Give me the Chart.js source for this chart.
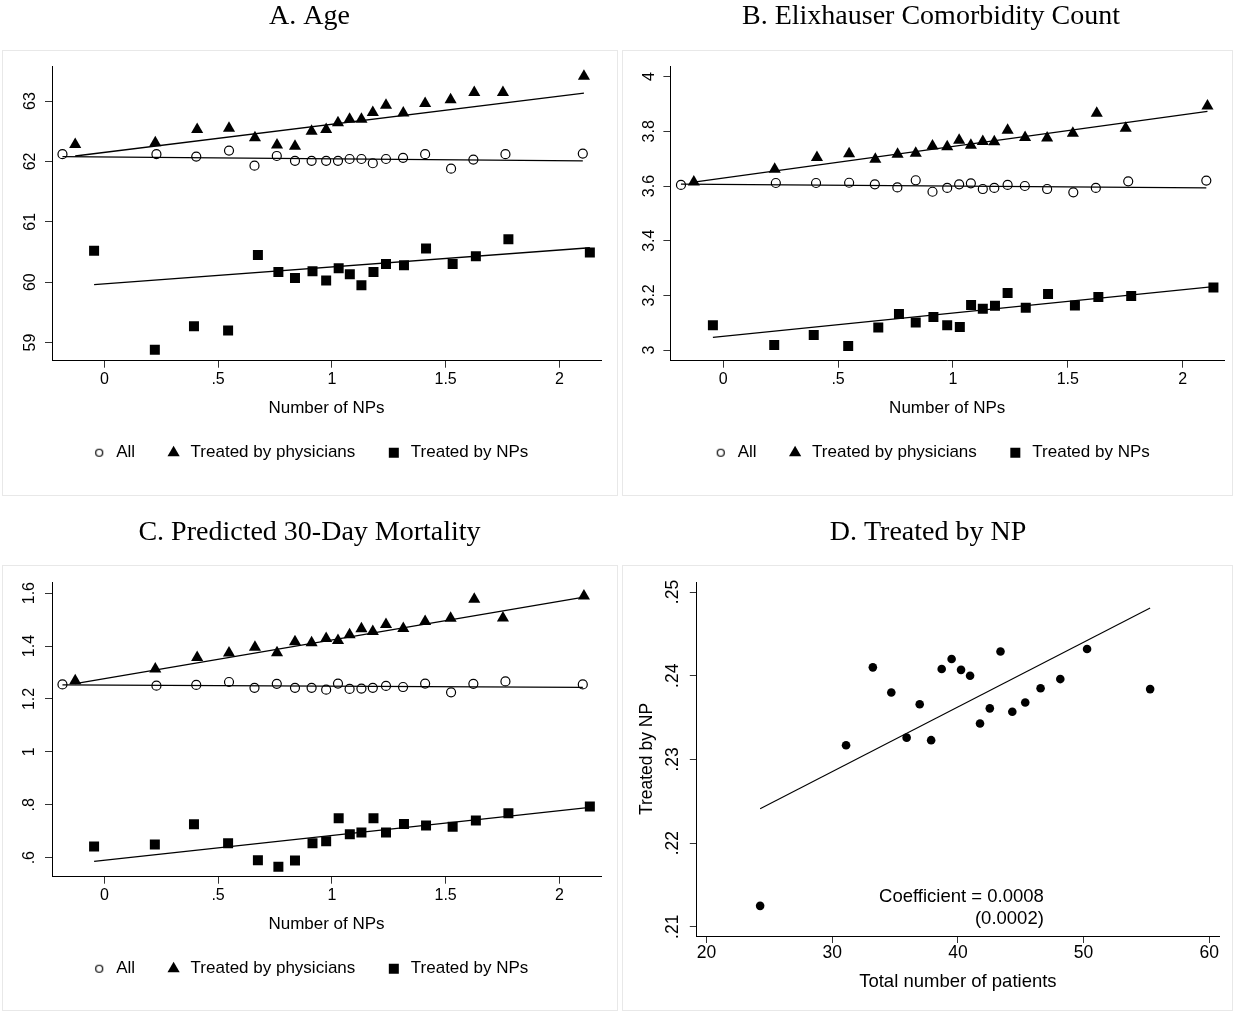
<!DOCTYPE html>
<html>
<head>
<meta charset="utf-8">
<script src="https://cdn.jsdelivr.net/npm/chart.js@4.4.1/dist/chart.umd.min.js"></script>
<style>
  body { margin: 0; background: #fff; }
  #wrap { position: relative; width: 1235px; height: 1013px; overflow: hidden; }
  .frame { position: absolute; border: 1px solid #e8e8e8; box-sizing: border-box; }
  canvas { position: absolute; }
</style>
</head>
<body>
<div id="wrap">
  <div class="frame" style="left:2px;top:50px;width:616px;height:446px"></div>
  <div class="frame" style="left:622px;top:50px;width:611px;height:446px"></div>
  <div class="frame" style="left:2px;top:565px;width:616px;height:446px"></div>
  <div class="frame" style="left:622px;top:565px;width:611px;height:446px"></div>
  <canvas id="chartA" width="618" height="497" style="left:0;top:0"></canvas>
  <canvas id="chartB" width="615" height="497" style="left:620px;top:0"></canvas>
  <canvas id="chartC" width="618" height="497" style="left:0;top:516px"></canvas>
  <canvas id="chartD" width="615" height="497" style="left:620px;top:516px"></canvas>
</div>
<script>
// number of NPs (bin means) for each group
const xAll  = [-0.184, 0.229, 0.404, 0.548, 0.660, 0.758, 0.838, 0.911, 0.975, 1.027, 1.078, 1.130, 1.180, 1.238, 1.313, 1.410, 1.524, 1.622, 1.763, 2.103]
const xPhys = [-0.128, 0.224, 0.408, 0.548, 0.662, 0.759, 0.838, 0.911, 0.975, 1.027, 1.078, 1.130, 1.180, 1.238, 1.314, 1.410, 1.522, 1.626, 1.752, 2.108]
const xNP   = [-0.045, 0.222, 0.394, 0.544, 0.675, 0.765, 0.838, 0.915, 0.975, 1.030, 1.079, 1.130, 1.183, 1.238, 1.317, 1.414, 1.531, 1.633, 1.776, 2.134]

// A. Age
const ageAll  = [62.12, 62.12, 62.08, 62.18, 61.93, 62.09, 62.01, 62.01, 62.01, 62.01, 62.04, 62.04, 61.97, 62.04, 62.06, 62.12, 61.88, 62.03, 62.12, 62.13]
const agePhys = [62.28, 62.31, 62.53, 62.55, 62.39, 62.27, 62.25, 62.50, 62.53, 62.64, 62.70, 62.70, 62.81, 62.93, 62.80, 62.96, 63.02, 63.14, 63.14, 63.41]
const ageNP   = [60.52, 58.88, 59.27, 59.20, 60.45, 60.17, 60.07, 60.18, 60.03, 60.23, 60.13, 59.95, 60.17, 60.30, 60.28, 60.56, 60.30, 60.43, 60.71, 60.49]
const ageFitAll = [62.08, 62.01]
const ageFitPhys = [62.09, 63.13]
const ageFitNP = [59.96, 60.57]
const ageTicks = [59, 60, 61, 62, 63]
const ageTickLabels = ['59', '60', '61', '62', '63']

// B. Elixhauser comorbidity count
const elixAll  = [3.604, 3.611, 3.611, 3.612, 3.606, 3.595, 3.621, 3.579, 3.593, 3.606, 3.610, 3.589, 3.593, 3.604, 3.600, 3.589, 3.577, 3.593, 3.617, 3.620]
const elixPhys = [3.615, 3.661, 3.704, 3.718, 3.698, 3.716, 3.720, 3.746, 3.744, 3.767, 3.749, 3.763, 3.762, 3.804, 3.777, 3.776, 3.793, 3.866, 3.811, 3.893]
const elixNP   = [3.091, 3.018, 3.055, 3.015, 3.082, 3.132, 3.101, 3.121, 3.091, 3.084, 3.165, 3.151, 3.162, 3.209, 3.155, 3.205, 3.163, 3.194, 3.198, 3.229]
const elixFitAll = [3.607, 3.593]
const elixFitPhys = [3.614, 3.873]
const elixFitNP = [3.046, 3.232]
const elixTicks = [3, 3.2, 3.4, 3.6, 3.8, 4]
const elixTickLabels = ['3', '3.2', '3.4', '3.6', '3.8', '4']

// C. Predicted 30-day mortality
const mortAll  = [1.255, 1.250, 1.253, 1.264, 1.242, 1.257, 1.242, 1.242, 1.235, 1.258, 1.238, 1.239, 1.242, 1.249, 1.245, 1.258, 1.225, 1.257, 1.266, 1.255]
const mortPhys = [1.269, 1.313, 1.357, 1.374, 1.395, 1.375, 1.416, 1.412, 1.428, 1.421, 1.443, 1.465, 1.455, 1.481, 1.466, 1.493, 1.505, 1.577, 1.506, 1.589]
const mortNP   = [0.642, 0.650, 0.726, 0.654, 0.590, 0.566, 0.589, 0.654, 0.662, 0.749, 0.688, 0.695, 0.749, 0.695, 0.727, 0.722, 0.717, 0.740, 0.768, 0.793]
const mortFitAll = [1.253, 1.244]
const mortFitPhys = [1.258, 1.585]
const mortFitNP = [0.586, 0.790]
const mortTicks = [0.6, 0.8, 1, 1.2, 1.4, 1.6]
const mortTickLabels = ['.6', '.8', '1', '1.2', '1.4', '1.6']

const npTicks = [0, 0.5, 1, 1.5, 2]
const npTickLabels = ['0', '.5', '1', '1.5', '2']

// D. Treated by NP
const patients = [24.26, 31.10, 33.23, 34.70, 35.92, 36.96, 37.87, 38.71, 39.50, 40.25, 40.97, 41.76, 42.54, 43.39, 44.33, 45.36, 46.58, 48.15, 50.28, 55.30]
const shareNP  = [0.2125, 0.2317, 0.2410, 0.2380, 0.2326, 0.2366, 0.2323, 0.2408, 0.2420, 0.2407, 0.2400, 0.2343, 0.2361, 0.2429, 0.2357, 0.2368, 0.2385, 0.2396, 0.2432, 0.2384]
const shareFit = [0.2241, 0.2481]
const patientTicks = [20, 30, 40, 50, 60]
const patientTickLabels = ['20', '30', '40', '50', '60']
const shareTicks = [0.21, 0.22, 0.23, 0.24, 0.25]
const shareTickLabels = ['.21', '.22', '.23', '.24', '.25']
const coefText = ['Coefficient = 0.0008', '(0.0002)']

const SANS = "'Liberation Sans', Arial, sans-serif"
const SERIF = "'Liberation Serif', 'Times New Roman', serif"

function pts(xs, ys){
  return xs.map((x, i) => ({x: x, y: ys[i]}))
}
function fit(xs, ends){
  return [{x: xs[0], y: ends[0]}, {x: xs[xs.length - 1], y: ends[1]}]
}

// small hollow circle for the legend (the built-in one is too large)
const legendDot = document.createElement('canvas')
legendDot.width = 10
legendDot.height = 10
let g = legendDot.getContext('2d')
g.beginPath()
g.arc(5, 5, 3.5, 0, Math.PI * 2)
g.lineWidth = 1.2
g.strokeStyle = '#000'
g.stroke()

function xScale(o){
  return {
    type: 'linear', min: o.min, max: o.max,
    afterBuildTicks: s => { s.ticks = o.ticks.map(v => ({value: v})) },
    afterFit: s => { s.height = o.height },
    border: {display: true, color: '#000', width: 1},
    grid: {drawOnChartArea: false, tickLength: 7, color: '#333'},
    ticks: {
      color: '#000', font: {family: SANS, size: o.size}, padding: o.pad,
      maxRotation: 0, autoSkip: false,
      callback: (v, i) => o.labels[i]
    },
    title: {display: true, text: o.title, color: '#000',
      font: {family: SANS, size: o.titleSize}, padding: {top: 0, bottom: o.titlePad}}
  }
}

function yScale(o){
  return {
    type: 'linear', min: o.min, max: o.max,
    afterBuildTicks: s => { s.ticks = o.ticks.map(v => ({value: v})) },
    afterFit: s => { s.width = o.width },
    border: {display: true, color: '#000', width: 1},
    grid: {drawOnChartArea: false, tickLength: 7, color: '#333'},
    ticks: {
      color: '#000', font: {family: SANS, size: o.size}, padding: o.pad,
      minRotation: 90, maxRotation: 90, crossAlign: 'center', autoSkip: false,
      callback: (v, i) => o.labels[i]
    },
    title: o.title
      ? {display: true, text: o.title, color: '#000', font: {family: SANS, size: o.titleSize}, padding: {top: 0, bottom: 0}}
      : {display: false}
  }
}

function groupPanel(id, title, ys, fits, yOpts, pad){
  const datasets = [
    {label: 'All', data: pts(xAll, ys[0]), pointStyle: 'circle', pointRadius: 4.5,
      backgroundColor: 'rgba(0,0,0,0)', borderColor: '#000', borderWidth: 1.2},
    {label: 'Treated by physicians', data: pts(xPhys, ys[1]), pointStyle: 'triangle', pointRadius: 7,
      backgroundColor: '#000', borderColor: '#000', borderWidth: 0},
    {label: 'Treated by NPs', data: pts(xNP, ys[2]), pointStyle: 'rect', pointRadius: 7.07,
      backgroundColor: '#000', borderColor: '#000', borderWidth: 0},
    {label: 'fitAll', data: fit(xAll, fits[0]), showLine: true, pointRadius: 0, borderColor: '#000', borderWidth: 1.3},
    {label: 'fitPhys', data: fit(xPhys, fits[1]), showLine: true, pointRadius: 0, borderColor: '#000', borderWidth: 1.3},
    {label: 'fitNP', data: fit(xNP, fits[2]), showLine: true, pointRadius: 0, borderColor: '#000', borderWidth: 1.3}
  ]
  return new Chart(document.getElementById(id), {
    type: 'scatter',
    data: {datasets: datasets},
    options: {
      responsive: false, animation: false, events: [],
      layout: {padding: {left: pad.left, right: pad.right, top: 0, bottom: 25.8}},
      scales: {
        x: xScale({min: -0.23, max: pad.xmax, ticks: npTicks, labels: npTickLabels, size: 16, pad: 2.7,
          height: 53.5, title: 'Number of NPs', titleSize: 17, titlePad: -4.1}),
        y: yOpts
      },
      plugins: {
        tooltip: {enabled: false},
        title: {display: true, text: title, color: '#000', font: {family: SERIF, size: 28, weight: 'normal'},
          padding: {top: 0, bottom: 32.4}},
        legend: {
          position: 'bottom',
          labels: {
            usePointStyle: true, boxHeight: 10, padding: 30, color: '#000',
            font: {family: SANS, size: 17},
            generateLabels: chart => {
              const items = Chart.defaults.plugins.legend.labels.generateLabels(chart)
              items.forEach(it => { if (it.pointStyle === 'circle') it.pointStyle = legendDot })
              return items
            },
            filter: item => item.datasetIndex < 3
          }
        }
      }
    }
  })
}

groupPanel('chartA', 'A. Age', [ageAll, agePhys, ageNP], [ageFitAll, ageFitPhys, ageFitNP],
  yScale({min: 58.70, max: 63.58, ticks: ageTicks, labels: ageTickLabels, size: 16, pad: 5.7, width: 34}),
  {left: 18, right: 17, xmax: 2.183})

groupPanel('chartB', 'B. Elixhauser Comorbidity Count', [elixAll, elixPhys, elixNP], [elixFitAll, elixFitPhys, elixFitNP],
  yScale({min: 2.961, max: 4.039, ticks: elixTicks, labels: elixTickLabels, size: 16, pad: 2.5, width: 32.4}),
  {left: 18, right: 11, xmax: 2.18})

groupPanel('chartC', 'C. Predicted 30-Day Mortality', [mortAll, mortPhys, mortNP], [mortFitAll, mortFitPhys, mortFitNP],
  yScale({min: 0.528, max: 1.642, ticks: mortTicks, labels: mortTickLabels, size: 16, pad: 4.5, width: 34}),
  {left: 18, right: 17, xmax: 2.183})

const coefLabel = {
  id: 'coefLabel',
  afterDraw(chart){
    const {ctx, scales} = chart
    ctx.save()
    ctx.font = '18.5px ' + SANS
    ctx.fillStyle = '#000'
    ctx.textAlign = 'right'
    ctx.textBaseline = 'middle'
    const x = scales.x.getPixelForValue(46.84)
    ctx.fillText(coefText[0], x, scales.y.getPixelForValue(0.21355))
    ctx.fillText(coefText[1], x, scales.y.getPixelForValue(0.21091))
    ctx.restore()
  }
}

new Chart(document.getElementById('chartD'), {
  type: 'scatter',
  data: {
    datasets: [
      {label: 'Treated by NP', data: pts(patients, shareNP), pointStyle: 'circle', pointRadius: 4.3,
        backgroundColor: '#000', borderColor: '#000', borderWidth: 0},
      {label: 'fit', data: fit(patients, shareFit), showLine: true, pointRadius: 0, borderColor: '#000', borderWidth: 1.1}
    ]
  },
  options: {
    responsive: false, animation: false, events: [],
    layout: {padding: {left: 17, right: 16, top: 0, bottom: 19}},
    scales: {
      x: xScale({min: 19.22, max: 60.78, ticks: patientTicks, labels: patientTickLabels, size: 17.5, pad: 0,
        height: 58, title: 'Total number of patients', titleSize: 18.5, titlePad: 0.9}),
      y: yScale({min: 0.2089, max: 0.2512, ticks: shareTicks, labels: shareTickLabels, size: 17.5, pad: 4.6,
        width: 59.8, title: 'Treated by NP', titleSize: 17.5})
    },
    plugins: {
      tooltip: {enabled: false},
      legend: {display: false},
      title: {display: true, text: 'D. Treated by NP', color: '#000', font: {family: SERIF, size: 28, weight: 'normal'},
        padding: {top: 0, bottom: 32.4}}
    }
  },
  plugins: [coefLabel]
})
</script>
</body>
</html>
